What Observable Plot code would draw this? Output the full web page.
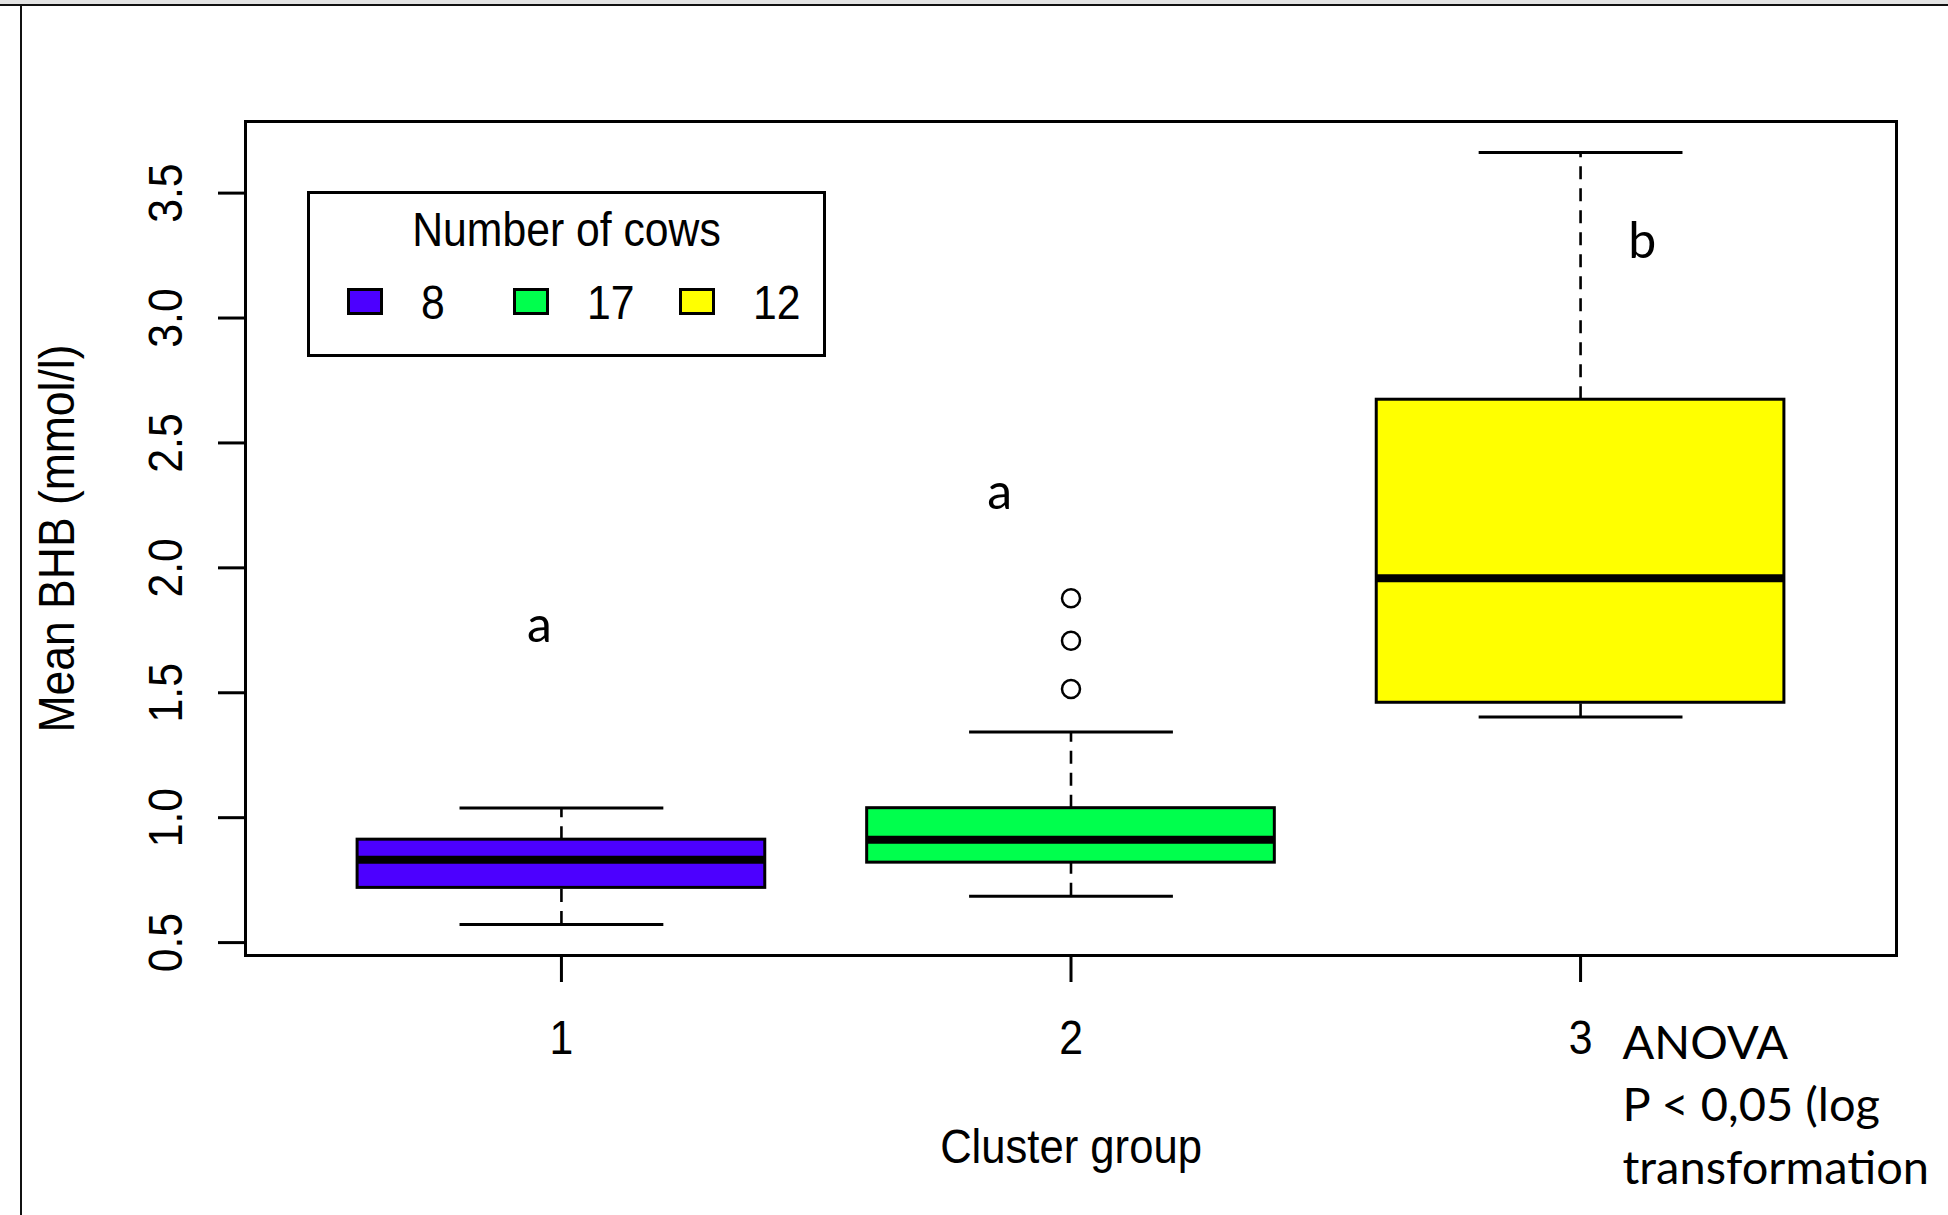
<!DOCTYPE html>
<html>
<head>
<meta charset="utf-8">
<script src="https://cdn.jsdelivr.net/npm/d3@7"></script>
<script src="https://cdn.jsdelivr.net/npm/@observablehq/plot@0.6"></script>
<style>
  html, body { margin: 0; padding: 0; background: #fff; }
  #wrap { position: relative; width: 1948px; height: 1215px; overflow: hidden; background: #fff; }
  #topstrip { position: absolute; left: 0; top: 0; width: 1948px; height: 4px; background: #e3e3e3; }
  #topline { position: absolute; left: 0; top: 4px; width: 1948px; height: 2px; background: #111; }
  #leftline { position: absolute; left: 20px; top: 4px; width: 2px; height: 1211px; background: #111; }
  #chart { position: absolute; left: 0; top: 0; }
  #legend { position: absolute; left: 307px; top: 191px; width: 519px; height: 166px;
            border: 3px solid #000; box-sizing: border-box; background: #fff;
            font-family: "Liberation Sans", Arimo, Arial, sans-serif; font-size: 48px; color: #000; }
  #legend .title { position: absolute; left: 0; width: 100%; text-align: center; top: 12px; line-height: 48px;
                   transform: scaleX(0.89); transform-origin: 50% 50%; }
  #legend .sw { position: absolute; top: 94px; width: 36px; height: 27px; border: 3px solid #000; box-sizing: border-box; }
  #legend .lab { position: absolute; top: 85px; line-height: 48px; transform: scaleX(0.89); transform-origin: 0 50%; }
</style>
</head>
<body>
<div id="wrap">
  <div id="chart"></div>
  <div id="topstrip"></div>
  <div id="topline"></div>
  <div id="leftline"></div>
  <div id="legend"></div>
</div>
<script>
// ---- data ----
const groups = [1, 2, 3];
const counts = [8, 17, 12];
const colors = ["#4C00FF", "#00FF4D", "#FFFF00"];
const whiskerLow  = [0.572, 0.686, 1.403];
const q1          = [0.719, 0.820, 1.460];
const medians     = [0.832, 0.912, 1.958];
const q3          = [0.912, 1.038, 2.673];
const whiskerHigh = [1.039, 1.343, 3.663];
const outlierGroup  = [2, 2, 2];
const outlierValues = [1.515, 1.708, 1.878];
const yTicks = [0.5, 1.0, 1.5, 2.0, 2.5, 3.0, 3.5];
const xTicks = [1, 2, 3];
const letters = ["a", "a", "b"];
const letterX = [0.957, 1.860, 3.121];
const letterY = [1.702, 2.237, 3.242];
const legendTitle = "Number of cows";
const xLabel = "Cluster group";
const yLabel = "Mean BHB (mmol/l)";
const anovaLines = ["ANOVA", "P < 0,05 (log", "transformation"];

// ---- derived tables ----
const boxes = groups.map((g, i) => ({
  g, lo: whiskerLow[i], q1: q1[i], med: medians[i], q3: q3[i], hi: whiskerHigh[i], color: colors[i]
}));
const outliers = outlierGroup.map((g, i) => ({g, v: outlierValues[i]}));
const letterData = letters.map((t, i) => ({t, x: letterX[i], y: letterY[i]}));

const allVals = [...whiskerLow, ...whiskerHigh, ...outlierValues];
const lo = d3.min(allVals), hi = d3.max(allVals), ext = (hi - lo) * 0.04;
const BOXW = 0.4, CAPW = 0.2;
const rFont = "'Liberation Sans', Arimo, Arial, sans-serif";
const NARROW = 0.89;

const chart = Plot.plot({
  width: 1948,
  height: 1215,
  marginLeft: 245,
  marginRight: 52,
  marginTop: 121,
  marginBottom: 260,
  style: { fontFamily: rFont, fontSize: "48px", background: "transparent", color: "#000", overflow: "visible" },
  x: { domain: [0.5 - 0.12, 3.5 + 0.12] },
  y: { domain: [lo - ext, hi + ext] },
  color: { type: "identity" },
  marks: [
    // whiskers (dashed)
    Plot.ruleX(boxes, { x: "g", y1: "q3", y2: "hi", stroke: "#000", strokeWidth: 2.6, strokeDasharray: "13,9" }),
    Plot.ruleX(boxes, { x: "g", y1: "lo", y2: "q1", stroke: "#000", strokeWidth: 2.6, strokeDasharray: "13,9" }),
    // staples
    Plot.link(boxes, { x1: d => d.g - CAPW, x2: d => d.g + CAPW, y1: "hi", y2: "hi", stroke: "#000", strokeWidth: 3 }),
    Plot.link(boxes, { x1: d => d.g - CAPW, x2: d => d.g + CAPW, y1: "lo", y2: "lo", stroke: "#000", strokeWidth: 3 }),
    // boxes
    Plot.rect(boxes, { x1: d => d.g - BOXW, x2: d => d.g + BOXW, y1: "q1", y2: "q3", fill: "color", stroke: "#000", strokeWidth: 3 }),
    // medians
    Plot.link(boxes, { x1: d => d.g - BOXW, x2: d => d.g + BOXW, y1: "med", y2: "med", stroke: "#000", strokeWidth: 8, strokeLinecap: "butt" }),
    // outliers
    Plot.dot(outliers, { x: "g", y: "v", r: 9, stroke: "#000", strokeWidth: 2.5, fill: "none" }),
    // frame
    Plot.frame({ stroke: "#000", strokeWidth: 3 }),
    // axes
    Plot.axisY({ ticks: yTicks, tickSize: 27, tickPadding: 37, tickRotate: -90, tickFormat: d3.format(".1f"),
                 label: null, fontSize: 48, fontFamily: rFont, strokeWidth: 3 }),
    Plot.axisX({ ticks: xTicks, tickSize: 27, tickPadding: 37, tickFormat: d => String(d),
                 label: null, fontSize: 48, fontFamily: rFont, strokeWidth: 3 }),
    // axis titles
    Plot.text([xLabel], { frameAnchor: "bottom", dy: 207, lineAnchor: "bottom", textAnchor: "middle",
                          fontSize: 49, fontFamily: rFont, text: d => d }),
    Plot.text([yLabel], { frameAnchor: "left", dx: -207, rotate: -90, lineAnchor: "top", textAnchor: "middle",
                          fontSize: 50, fontFamily: rFont, text: d => d }),
    // significance letters
    Plot.text(letterData, { x: "x", y: "y", text: "t", lineAnchor: "bottom", fontFamily: "Lato", fontSize: 50, fill: "#000" }),
    // ANOVA note
    Plot.text([anovaLines.join("\n")], { frameAnchor: "bottom-right", dx: -274, dy: 59, textAnchor: "start",
               lineAnchor: "top", lineHeight: 1.33, fontFamily: "Lato", fontSize: 47, fill: "#000", text: d => d })
  ]
});

// R draws its text in a narrow face: compress the R-style labels along their reading direction
for (const g of chart.querySelectorAll("g")) {
  if (g.getAttribute("font-family") === rFont) {
    for (const t of g.querySelectorAll("text")) {
      const tr = t.getAttribute("transform") || "";
      t.setAttribute("transform", (tr + ` scale(${NARROW},1)`).trim());
    }
  }
}
document.getElementById("chart").appendChild(chart);

// ---- legend (inside plot area, top-left) ----
const legend = document.getElementById("legend");
const t = document.createElement("div");
t.className = "title";
t.textContent = legendTitle;
legend.appendChild(t);
counts.forEach((c, i) => {
  const sw = document.createElement("div");
  sw.className = "sw";
  sw.style.left = (37 + i * 166) + "px";
  sw.style.background = colors[i];
  legend.appendChild(sw);
  const lab = document.createElement("div");
  lab.className = "lab";
  lab.style.left = (111 + i * 166) + "px";
  lab.textContent = String(c);
  legend.appendChild(lab);
});
</script>
</body>
</html>
